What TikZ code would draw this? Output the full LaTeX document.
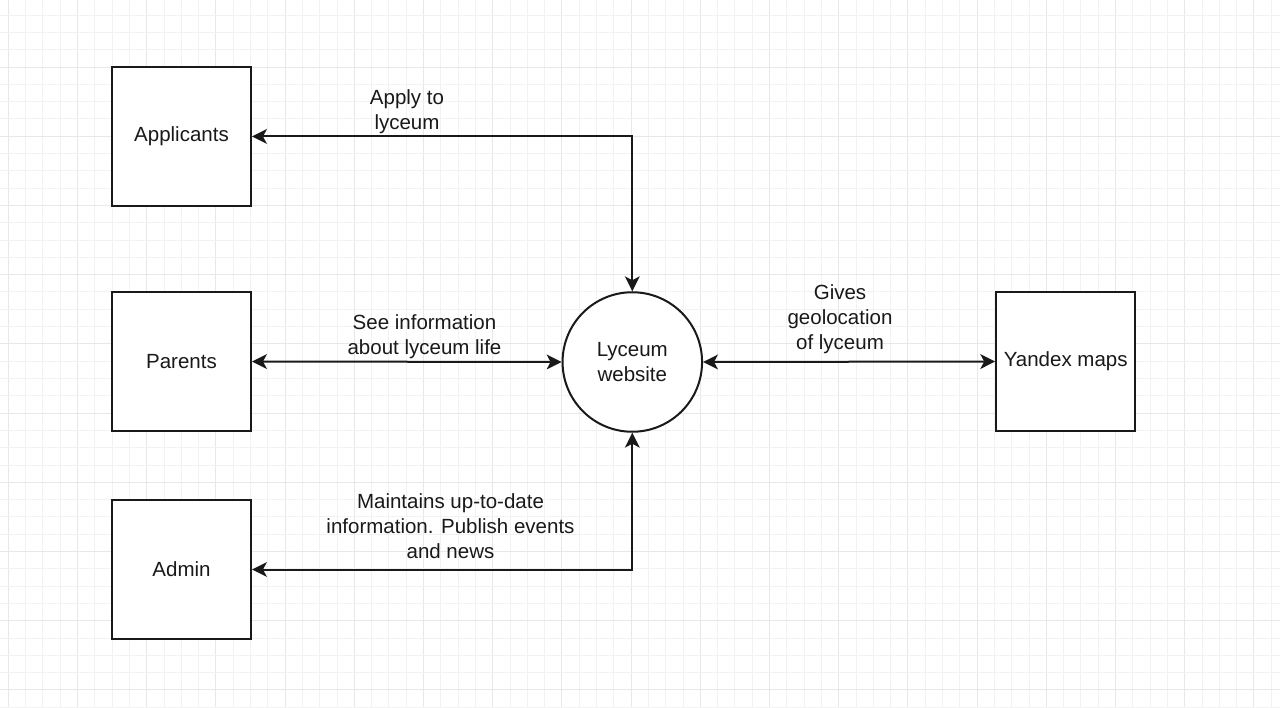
\documentclass[tikz,border=0pt]{standalone}
\usepackage{fontspec}
\setmainfont{Liberation Sans}
\usetikzlibrary{arrows.meta}
\begin{document}
\begin{tikzpicture}[x=1pt,y=-1pt,
  every node/.style={font=\fontsize{20.5}{25}\selectfont, text=black!90},
  entity/.style={draw=black!90, line width=2pt, fill=white, minimum width=139pt, minimum height=139pt, inner sep=0pt, align=center},
  process/.style={draw=black!90, line width=2pt, fill=white, circle, minimum size=139.5pt, inner sep=0pt, align=center},
  tip/.tip={Stealth[length=15pt,width=15pt,inset=4pt,line width=0pt]},
  flow/.style={draw=black!90, line width=2pt, {tip}-{tip}},
  flowlabel/.style={align=center, inner sep=0pt},
  gridline/.style={draw=black!5, line width=0.8pt},
  gridmajor/.style={draw=black!9, line width=0.9pt}]
\useasboundingbox (0,0) rectangle (1280,708);
\fill[white] (0,0) rectangle (1280,708);
\foreach \k in {0,...,73}{
  \pgfmathsetmacro{\gx}{8.2+17.3*\k}
  \pgfmathtruncatemacro{\gm}{mod(\k,4)}
  \ifnum\gm=0
    \draw[gridmajor] (\gx,0) -- (\gx,708);
  \else
    \draw[gridline] (\gx,0) -- (\gx,708);
  \fi
}
\foreach \k in {0,...,40}{
  \pgfmathsetmacro{\gy}{15.1+17.3*\k}
  \pgfmathtruncatemacro{\gm}{mod(\k,4)}
  \ifnum\gm=3
    \draw[gridmajor] (0,\gy) -- (1280,\gy);
  \else
    \draw[gridline] (0,\gy) -- (1280,\gy);
  \fi
}
\node[entity] (app) at (181.5,136.5) {Applicants};
\node[entity] (par) at (181.5,361.5) {Parents};
\node[entity] (adm) at (181.5,569.5) {Admin};
\node[process] (web) at (632.3,362) {Lyceum\\website};
\node[entity] (yan) at (1065.7,361.5) {Yandex maps};

\draw[flow] (app.east) -| (web.north);
\draw[flow] (par.east) -- (web.west);
\draw[flow] (adm.east) -| (web.south);
\draw[flow] (web.east) -- (yan.west);

\node[flowlabel] (l1) at (407,112) {Apply to\\lyceum};
\node[flowlabel] (l2) at (424.5,337) {See information\\about lyceum life};
\node[flowlabel] (l3) at (840,319.5) {Gives\\geolocation\\of lyceum};
\node[flowlabel] (l4) at (450.5,526) {Maintains up-to-date\\information. Publish events\\and news};
\end{tikzpicture}
\end{document}
